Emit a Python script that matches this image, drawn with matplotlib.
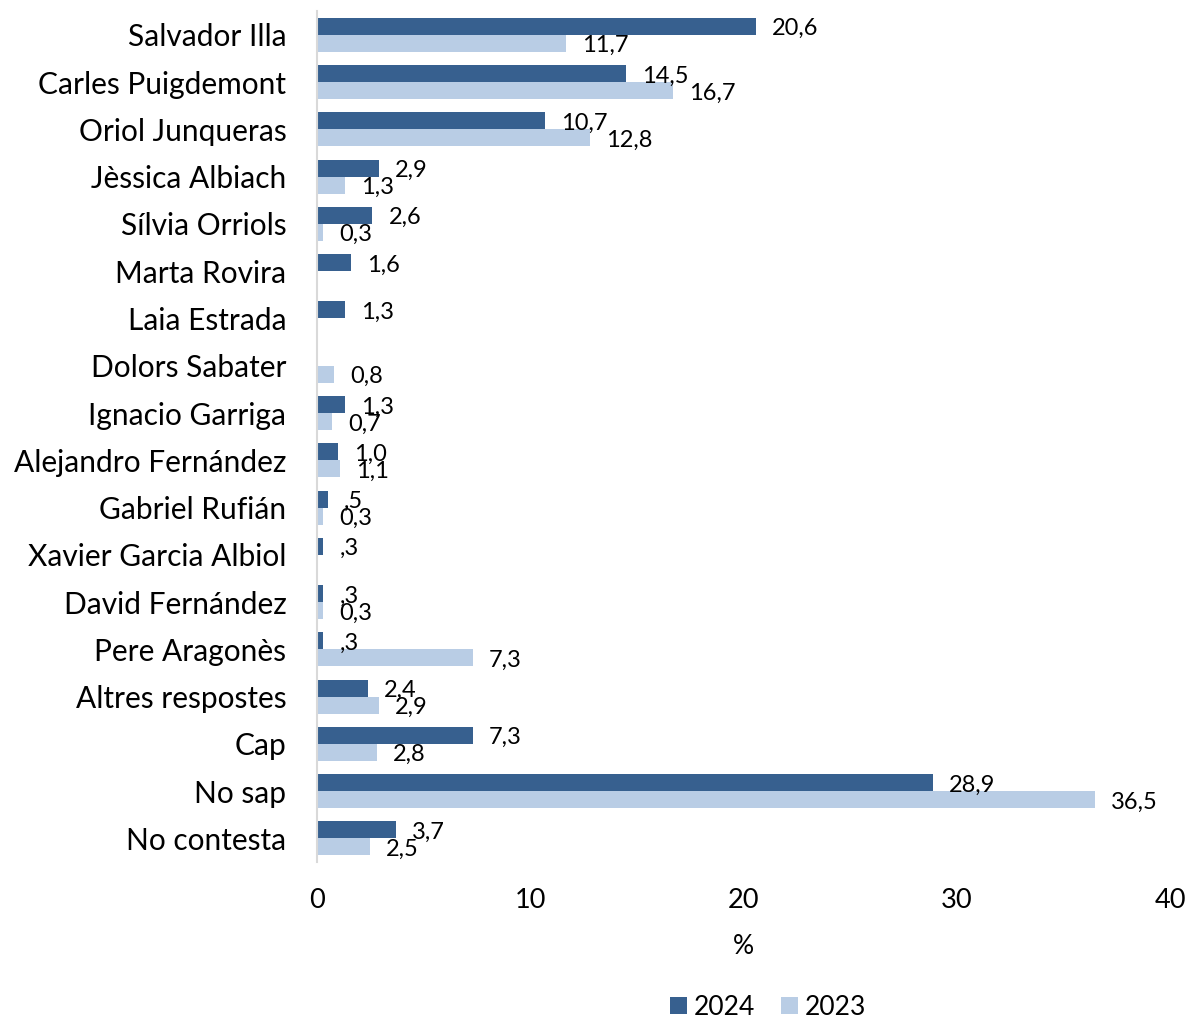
import numpy as np
from matplotlib import pyplot as plt

plt.rcParams['font.family'] = ['Lato', 'DejaVu Sans']

categories = ['Salvador Illa', 'Carles Puigdemont', 'Oriol Junqueras', 'Jèssica Albiach',
              'Sílvia Orriols', 'Marta Rovira', 'Laia Estrada', 'Dolors Sabater',
              'Ignacio Garriga', 'Alejandro Fernández', 'Gabriel Rufián',
              'Xavier Garcia Albiol', 'David Fernández', 'Pere Aragonès',
              'Altres respostes', 'Cap', 'No sap', 'No contesta']
vals_2024 = [20.6, 14.5, 10.7, 2.9, 2.6, 1.6, 1.3, None, 1.3, 1.0, 0.5, 0.3, 0.3, 0.3, 2.4, 7.3, 28.9, 3.7]
vals_2023 = [11.7, 16.7, 12.8, 1.3, 0.3, None, None, 0.8, 0.7, 1.1, 0.3, None, 0.3, 7.3, 2.9, 2.8, 36.5, 2.5]
labels_2024 = ['20,6', '14,5', '10,7', '2,9', '2,6', '1,6', '1,3', None, '1,3', '1,0', ',5', ',3', ',3', ',3', '2,4', '7,3', '28,9', '3,7']
labels_2023 = ['11,7', '16,7', '12,8', '1,3', '0,3', None, None, '0,8', '0,7', '1,1', '0,3', None, '0,3', '7,3', '2,9', '2,8', '36,5', '2,5']

c_2024 = '#37608F'
c_2023 = '#B9CDE5'

fig = plt.figure(figsize=(11.89, 10.19), dpi=100)
ax = fig.add_axes([0.2666, 0.154, 0.7174, 0.835])

y = np.arange(len(categories))
h = 0.36
v24 = np.array([np.nan if v is None else v for v in vals_2024])
v23 = np.array([np.nan if v is None else v for v in vals_2023])
ax.barh(y - h / 2, np.nan_to_num(v24), height=h, color=c_2024, label='2024')
ax.barh(y + h / 2, np.nan_to_num(v23), height=h, color=c_2023, label='2023')

for i in range(len(categories)):
    if labels_2024[i] is not None:
        ax.text(v24[i] + 0.75, y[i] - h / 2 + 0.05, labels_2024[i], va='center', ha='left', fontsize=17)
    if labels_2023[i] is not None:
        ax.text(v23[i] + 0.75, y[i] + h / 2 + 0.05, labels_2023[i], va='center', ha='left', fontsize=17)

ax.set_ylim(len(categories) - 0.5, -0.5)
ax.set_xlim(0, 40)
ax.set_yticks(y)
ax.set_yticklabels(categories, fontsize=21.5)
ax.set_xticks([0, 10, 20, 30, 40])
ax.tick_params(axis='both', length=0)
ax.tick_params(axis='y', pad=22)
ax.tick_params(axis='x', pad=19, labelsize=19.5)
ax.set_xlabel('%', fontsize=19, labelpad=15)
for s in ['top', 'right', 'bottom']:
    ax.spines[s].set_visible(False)
ax.spines['left'].set_color('#D9D9D9')
ax.spines['left'].set_linewidth(1.5)

fig.legend(loc='lower center', bbox_to_anchor=(0.646, -0.024), ncol=2, frameon=False,
           fontsize=19, handlelength=0.65, handleheight=0.65, handletextpad=0.25, columnspacing=1.0)

plt.savefig('out.png')
